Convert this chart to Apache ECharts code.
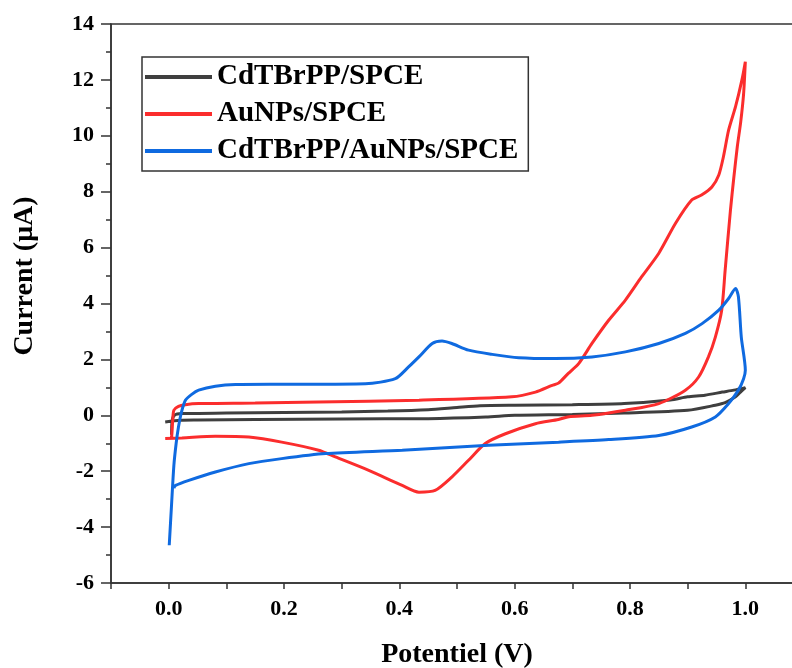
<!DOCTYPE html>
<html>
<head>
<meta charset="utf-8">
<title>Cyclic voltammograms</title>
<script src="https://cdn.jsdelivr.net/npm/echarts@6/dist/echarts.min.js"></script>
<style>
  html, body { margin: 0; padding: 0; background: #ffffff; }
  #chart { width: 792px; height: 668px; }
</style>
</head>
<body>
<div id="chart"></div>
<script>
// Series names (legend order)
const seriesNames = ['CdTBrPP/SPCE', 'AuNPs/SPCE', 'CdTBrPP/AuNPs/SPCE'];

// CdTBrPP/SPCE: potential (V) and current (µA), forward then reverse sweep
const potentialBare = [0.005, 0.006, 0.01, 0.023, 0.1, 0.2, 0.3, 0.38, 0.45, 0.5, 0.54, 0.6, 0.7, 0.79, 0.87, 0.9, 0.93, 0.96, 0.98, 1.0,
                       0.99, 0.983, 0.965, 0.948, 0.9, 0.79, 0.7, 0.6, 0.55, 0.45, 0.3, 0.15, 0.05, 0.02, -0.006];
const currentBare   = [-0.7, -0.2, 0.0, 0.06, 0.08, 0.1, 0.12, 0.15, 0.2, 0.28, 0.34, 0.36, 0.38, 0.42, 0.55, 0.66, 0.72, 0.83, 0.9, 0.99,
                       0.8, 0.66, 0.45, 0.36, 0.18, 0.08, 0.03, 0.0, -0.06, -0.12, -0.13, -0.15, -0.17, -0.18, -0.24];

// AuNPs/SPCE
const potentialAu = [0.005, 0.006, 0.007, 0.009, 0.017, 0.029, 0.052, 0.15, 0.26, 0.434, 0.595, 0.636, 0.665, 0.676, 0.693, 0.711, 0.734, 0.763, 0.792, 0.82,
                     0.85, 0.879, 0.907, 0.924, 0.942, 0.954, 0.962, 0.971, 0.983, 0.994, 1.0,
                     0.997, 0.992, 0.986, 0.98, 0.974, 0.965, 0.959, 0.948, 0.936, 0.919, 0.896, 0.85, 0.792, 0.734, 0.694, 0.676, 0.636,
                     0.584, 0.549, 0.52, 0.491, 0.462, 0.434, 0.405, 0.347, 0.289, 0.26, 0.196, 0.139, 0.081, 0.023, -0.006];
const currentAu   = [-0.83, -0.5, -0.18, 0.18, 0.32, 0.38, 0.42, 0.44, 0.48, 0.54, 0.66, 0.83, 1.07, 1.15, 1.5, 1.85, 2.57, 3.4, 4.12, 4.95,
                     5.8, 6.87, 7.7, 7.88, 8.17, 8.6, 9.25, 10.2, 11.04, 11.99, 12.65,
                     11.5, 10.5, 9.6, 8.5, 7.3, 5.19, 3.76, 2.8, 2.09, 1.37, 0.9, 0.42, 0.18, 0.0, -0.05, -0.15, -0.3,
                     -0.66, -1.01, -1.61, -2.21, -2.69, -2.75, -2.51, -1.97, -1.49, -1.25, -0.96, -0.78, -0.75, -0.81, -0.83];

// CdTBrPP/AuNPs/SPCE
const potentialMod = [0.001, 0.005, 0.009, 0.013, 0.017, 0.022, 0.029, 0.04, 0.052, 0.081, 0.116, 0.2, 0.341, 0.393, 0.416, 0.434, 0.457, 0.474, 0.491, 0.52,
                      0.561, 0.607, 0.67, 0.734, 0.792, 0.85, 0.896, 0.925, 0.954, 0.971, 0.983,
                      0.988, 0.993, 1.0, 0.997, 0.988, 0.971, 0.948, 0.907, 0.85, 0.763, 0.676, 0.555, 0.405, 0.272, 0.196, 0.139, 0.081, 0.035, 0.012, 0.009];
const currentMod   = [-4.65, -3.2, -1.8, -1.0, -0.42, 0.1, 0.54, 0.75, 0.9, 1.04, 1.1, 1.11, 1.13, 1.31, 1.73, 2.09, 2.57, 2.66, 2.57, 2.33,
                      2.18, 2.06, 2.03, 2.09, 2.27, 2.57, 2.93, 3.28, 3.76, 4.18, 4.54,
                      4.24, 2.8, 1.61, 1.31, 0.9, 0.42, -0.06, -0.42, -0.72, -0.87, -0.96, -1.07, -1.25, -1.37, -1.55, -1.73, -2.03, -2.33, -2.51, -2.6];

// Axis tick labels
const xTickLabels = ['0.0', '0.2', '0.4', '0.6', '0.8', '1.0'];

const seriesColors = ['#3f3f3f', '#fb2d2d', '#0f6ae0'];
const serifFont = "'Liberation Serif', 'Times New Roman', 'DejaVu Serif', serif";

function pairs(xs, ys) {
  return xs.map((x, i) => [x, ys[i]]);
}

const dataSets = [
  pairs(potentialBare, currentBare),
  pairs(potentialAu, currentAu),
  pairs(potentialMod, currentMod)
];

const chart = echarts.init(document.getElementById('chart'), null, { renderer: 'canvas' });

chart.setOption({
  animation: false,
  backgroundColor: '#ffffff',
  grid: {
    left: 111, right: -11, top: 24, bottom: 85,
    outerBoundsMode: 'none',
    containLabel: false,
    show: true, borderColor: '#333333', borderWidth: 1.5, backgroundColor: 'transparent'
  },
  legend: {
    orient: 'vertical',
    left: 142, top: 57,
    data: seriesNames,
    icon: 'rect',
    itemWidth: 67, itemHeight: 4,
    itemGap: 3,
    padding: [3, 10, 3, 3],
    borderColor: '#333333', borderWidth: 1.5,
    textStyle: { fontFamily: serifFont, fontWeight: 'bold', fontSize: 29, color: '#000000', lineHeight: 34 }
  },
  xAxis: {
    type: 'value',
    min: -0.1, max: 1.1, interval: 0.1,
    name: 'Potentiel (V)',
    nameLocation: 'middle',
    nameGap: 58,
    nameTextStyle: { fontFamily: serifFont, fontWeight: 'bold', fontSize: 28, color: '#000000' },
    axisLine: { onZero: false, lineStyle: { color: '#333333', width: 1.5 } },
    axisTick: { inside: false, length: 6, lineStyle: { color: '#333333', width: 1.5 } },
    axisLabel: {
      margin: 15,
      fontFamily: serifFont, fontWeight: 'bold', fontSize: 22, color: '#000000',
      formatter: function (v) {
        const idx = Math.round(v * 5);
        const isEven = Math.abs(v * 5 - idx) < 1e-6;
        return (isEven && idx >= 0 && idx < xTickLabels.length) ? xTickLabels[idx] : '';
      }
    },
    splitLine: { show: false }
  },
  yAxis: {
    type: 'value',
    min: -6, max: 14, interval: 2,
    axisLine: { onZero: false, lineStyle: { color: '#333333', width: 1.5 } },
    axisTick: { inside: false, length: 10, lineStyle: { color: '#333333', width: 1.5 } },
    minorTick: { show: true, splitNumber: 2, length: 5, lineStyle: { color: '#333333', width: 1.5 } },
    axisLabel: { margin: 17, fontFamily: serifFont, fontWeight: 'bold', fontSize: 22, color: '#000000' },
    splitLine: { show: false }
  },
  graphic: [{
    type: 'text',
    x: 25, y: 276,
    rotation: Math.PI / 2,
    style: {
      text: 'Current (μA)',
      font: "bold 28px 'Liberation Serif', 'Times New Roman', serif",
      fill: '#000000',
      textAlign: 'center',
      textVerticalAlign: 'middle'
    }
  }],
  series: dataSets.map((d, i) => ({
    name: seriesNames[i],
    type: 'line',
    data: d,
    symbol: 'none',
    smooth: 0.25,
    color: seriesColors[i],
    lineStyle: { color: seriesColors[i], width: 3 }
  }))
});
</script>
</body>
</html>
